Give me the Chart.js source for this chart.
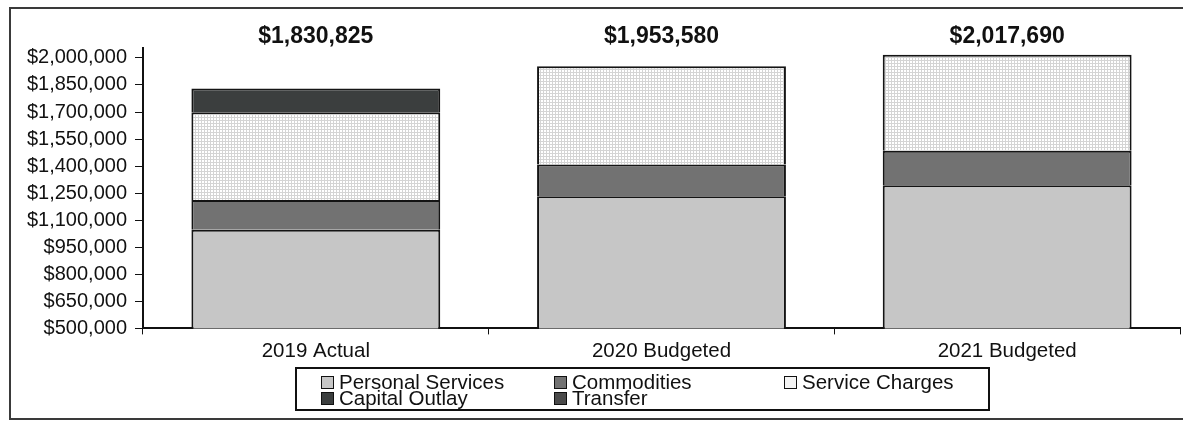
<!DOCTYPE html>
<html>
<head>
<meta charset="utf-8">
<script src="https://cdn.jsdelivr.net/npm/chart.js@4.4.1/dist/chart.umd.min.js"></script>
<style>
  body { margin: 0; background: #fff; }
  #wrap { position: relative; width: 1183px; height: 424px; overflow: hidden; }
  #frame { position: absolute; left: 9px; top: 7px; width: 1180px; height: 413px; border: 2px solid #3a3a3a; border-right: none; box-sizing: border-box; }
  #grafico { position: absolute; left: 0; top: 0; }
  #legenda { position: absolute; left: 295px; top: 367px; width: 695px; height: 44px; border: 2px solid #111; box-sizing: border-box;
    font-family: "Liberation Sans", Arial, sans-serif; font-size: 20.5px; color: #111; }
  .item { position: absolute; display: flex; align-items: center; line-height: 16px; white-space: nowrap; }
  .quadro { width: 11px; height: 11px; border: 1.5px solid #111; margin-right: 5px; }
</style>
</head>
<body>
<div id="wrap">
  <div id="frame"></div>
  <canvas id="grafico" width="1183" height="424"></canvas>
  <div id="legenda"></div>
</div>
<script>
// ===== DADOS =====
const categorias = ["2019 Actual", "2020 Budgeted", "2021 Budgeted"];
const personalServices = [1047400, 1233500, 1293700];
const commodities = [164200, 175200, 191600];
const serviceCharges = [487200, 544880, 532390];
const capitalOutlay = [132025, 0, 0];
const transfer = [0, 0, 0];
const yTicks = [500000, 650000, 800000, 950000, 1100000, 1250000, 1400000, 1550000, 1700000, 1850000, 2000000];

const dinheiro = v => "$" + v.toLocaleString("en-US");
const fonte = '"Liberation Sans", Arial, sans-serif';

// ===== PADRÃO: SERVICE CHARGES (grade clara) =====
function padraoGrade() {
  const c = document.createElement("canvas");
  c.width = 3; c.height = 3;
  const g = c.getContext("2d");
  g.fillStyle = "#ffffff";
  g.fillRect(0, 0, 3, 3);
  g.fillStyle = "#d4d4d4";
  g.fillRect(0, 0, 3, 1);
  g.fillRect(0, 0, 1, 3);
  return g.createPattern(c, "repeat");
}

const series = [
  { label: "Personal Services", data: personalServices, cor: "#c6c6c6" },
  { label: "Commodities", data: commodities, cor: "#727272" },
  { label: "Service Charges", data: serviceCharges, cor: padraoGrade(), corLegenda: "#f4f4f4" },
  { label: "Capital Outlay", data: capitalOutlay, cor: "#3b3e3e" },
  { label: "Transfer", data: transfer, cor: "#4a4a4a" }
];

// ===== PLUGIN: TOTAIS NO TOPO =====
const totaisPlugin = {
  id: "totais",
  afterDatasetsDraw(chart) {
    const ctx = chart.ctx;
    const x = chart.scales.x;
    ctx.save();
    ctx.font = "bold 23px " + fonte;
    ctx.fillStyle = "#111";
    ctx.textAlign = "center";
    ctx.textBaseline = "middle";
    categorias.forEach((cat, i) => {
      const total = series.reduce((acc, s) => acc + s.data[i], 0);
      ctx.fillText(dinheiro(total), x.getPixelForValue(i), chart.chartArea.top - 11);
    });
    ctx.restore();
  }
};

const chart = new Chart(document.getElementById("grafico").getContext("2d"), {
  type: "bar",
  data: {
    labels: categorias,
    datasets: series.map(s => ({
      label: s.label,
      data: s.data,
      backgroundColor: s.cor,
      borderColor: "#141414",
      borderWidth: 2,
      borderSkipped: "start",
      barPercentage: 0.72,
      categoryPercentage: 1
    }))
  },
  options: {
    responsive: false,
    animation: false,
    layout: { padding: { left: 9, right: 3, top: 48, bottom: 55 } },
    plugins: { legend: { display: false }, tooltip: { enabled: false } },
    scales: {
      x: {
        stacked: true,
        grid: { display: true, drawOnChartArea: false, tickLength: 6, color: "#111", offset: true },
        border: { color: "#111", width: 2 },
        ticks: { color: "#111", padding: 5, font: { family: fonte, size: 20.5 } }
      },
      y: {
        stacked: true,
        min: 500000,
        max: 2055000,
        afterBuildTicks: scale => { scale.ticks = yTicks.map(v => ({ value: v })); },
        afterFit: scale => { scale.width = 134; },
        grid: { display: true, drawOnChartArea: false, tickLength: 8, color: "#111" },
        border: { color: "#111", width: 2 },
        ticks: { color: "#111", padding: 8, font: { family: fonte, size: 20 }, callback: v => dinheiro(v) }
      }
    }
  },
  plugins: [totaisPlugin]
});

// ===== LEGENDA HTML =====
const legenda = document.getElementById("legenda");
const posicoes = [[24, 5], [257, 5], [487, 5], [24, 21], [257, 21]];
chart.data.datasets.forEach((ds, i) => {
  const item = document.createElement("div");
  item.className = "item";
  item.style.left = posicoes[i][0] + "px";
  item.style.top = posicoes[i][1] + "px";
  const quadro = document.createElement("span");
  quadro.className = "quadro";
  quadro.style.background = series[i].corLegenda || series[i].cor;
  item.appendChild(quadro);
  item.appendChild(document.createTextNode(ds.label));
  legenda.appendChild(item);
});
</script>
</body>
</html>
